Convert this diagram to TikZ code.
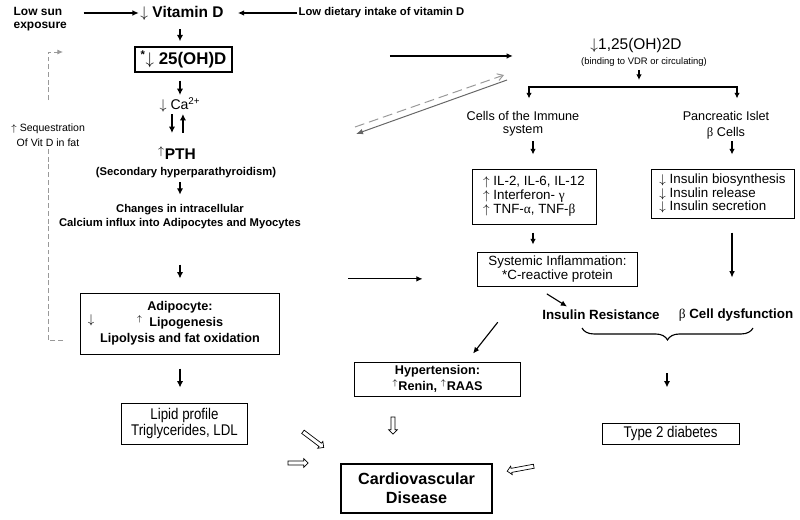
\documentclass[tikz,border=0pt]{standalone}
\usepackage{fontspec}
\setmainfont{Liberation Sans}
\newfontfamily\narrowfont[FakeStretch=0.86]{Liberation Sans}
\newfontfamily\grkfont{Liberation Serif}
\usetikzlibrary{arrows.meta,shapes.arrows,decorations.pathreplacing}
\newcommand{\fsz}[2]{\fontsize{#1}{#2}\selectfont}
\newcommand{\gk}[1]{{\grkfont\mdseries #1}}

\tikzset{
  lbl/.style={inner sep=1pt, align=center},
  bx/.style={draw, line width=0.7pt, inner sep=1pt, align=center},
  dnarr/.style={line width=1.4pt, -{Latex[length=4.5pt,width=4.5pt]}},
  smarr/.style={line width=1pt, -{Latex[length=4pt,width=4pt]}},
  thinarr/.style={line width=0.8pt, -{Latex[length=4.5pt,width=4pt]}},
  hollow/.style={single arrow, draw, line width=0.5pt, inner sep=1.2pt, minimum width=5.5pt,
    single arrow head extend=1.6pt},
  seqln/.style={black!40, line width=0.6pt, dash pattern=on 3.5pt off 2pt},
}

\begin{document}
\begin{tikzpicture}[x=0.025cm, y=-0.025cm]
        \useasboundingbox (0,0) rectangle (800,519);

        \node[lbl, anchor=west, align=left, font=\bfseries\fsz{8.5}{9.3}] (sun) at (12,19.5) {Low sun\\exposure};
        \node[lbl, font=\bfseries\fsz{11}{13}] (vitd) at (182,13) {$\downarrow$ Vitamin D};
        \node[lbl, anchor=west, font=\bfseries\fsz{8}{10}] (diet) at (297,13) {Low dietary intake of vitamin D};
        \node[bx, line width=1.2pt, minimum width=2.425cm, minimum height=0.625cm, font=\bfseries\fsz{12}{14}] (d25) at (183.5,59.5) {\textsuperscript{*}$\downarrow$ 25(OH)D};
        \node[lbl, font=\fsz{10}{12}] (ca) at (180,105) {$\downarrow$ Ca\textsuperscript{2+}};
        \node[lbl, font=\bfseries\fsz{11}{13}] (pth) at (177,153) {\textsuperscript{$\uparrow$}PTH};
        \node[lbl, font=\bfseries\fsz{8}{10}] (sec) at (186,173) {(Secondary hyperparathyroidism)};
        \node[lbl, font=\bfseries\fsz{8}{10}] (chg) at (180,217) {Changes in intracellular\\Calcium influx into Adipocytes and Myocytes};
        \node[bx, minimum width=4.95cm, minimum height=1.525cm, font=\bfseries\fsz{9}{11.4}] (adipo) at (180,323.5) {Adipocyte:\\\textsuperscript{$\uparrow$}\enspace Lipogenesis\\Lipolysis and fat oxidation};
        \node[lbl, font=\fsz{9}{11}] (adn) at (91,320) {$\downarrow$};
        \node[bx, minimum width=3.125cm, minimum height=1.025cm, font=\narrowfont\fsz{11}{12}] (lipid) at (184.5,423.5) {Lipid profile\\Triglycerides, LDL};
        \node[bx, line width=0.9pt, minimum width=3.775cm, minimum height=1.225cm, font=\bfseries\fsz{11.5}{13.5}] (cvd) at (416.5,488.5) {Cardiovascular\\Disease};
        \node[lbl, font=\fsz{7.5}{10.5}] (seq) at (48,135) {$\uparrow$ Sequestration\\Of Vit D in fat};

        \node[lbl, font=\fsz{11}{13}] (calc) at (636,45) {$\downarrow$1,25(OH)2D};
        \node[lbl, font=\fsz{6.7}{8}] (bind) at (644,62) {(binding to VDR or circulating)};
        \node[lbl, font=\fsz{9}{9.3}] (immune) at (523,123.5) {Cells of the Immune\\system};
        \node[lbl, font=\fsz{9}{11.4}] (islet) at (726,125) {Pancreatic Islet\\\gk{β} Cells};
        \node[bx, minimum width=3.1cm, minimum height=1.375cm, align=left, font=\fsz{9.5}{10}] (cyto) at (534,196.5) {$\uparrow$ IL-2, IL-6, IL-12\\$\uparrow$ Interferon- \gk{γ}\\$\uparrow$ TNF-\gk{α}, TNF-\gk{β}};
        \node[bx, minimum width=3.575cm, minimum height=1.225cm, align=left, font=\fsz{9.5}{9.8}] (insul) at (722.5,193.5) {$\downarrow$ Insulin biosynthesis\\$\downarrow$ Insulin release\\$\downarrow$ Insulin secretion};
        \node[bx, minimum width=3.975cm, minimum height=0.85cm, font=\fsz{9.5}{10.5}] (sys) at (557.5,269) {Systemic Inflammation:\\*C-reactive protein};
        \node[lbl, font=\bfseries\fsz{9.5}{11}] (ir) at (601,315) {Insulin Resistance};
        \node[lbl, font=\bfseries\fsz{9.5}{11}] (bcd) at (736,315) {\gk{β} Cell dysfunction};
        \node[bx, minimum width=4.125cm, minimum height=0.85cm, font=\bfseries\fsz{9}{11.4}] (hyp) at (437.5,379) {Hypertension:\\\textsuperscript{$\uparrow$}Renin, \textsuperscript{$\uparrow$}RAAS};
        \node[bx, minimum width=3.425cm, minimum height=0.525cm, font=\narrowfont\fsz{11}{12}] (t2d) at (670.5,433.5) {Type 2 diabetes};

        % open block arrows into the disease box
        \node[hollow, minimum height=0.65cm, rotate=-37] (h1) at (312.5,439) {};
        \node[hollow, minimum height=0.5cm] (h2) at (297,463) {};
        \node[hollow, minimum height=0.425cm, rotate=-90] (h3) at (393,424.5) {};
        \node[hollow, minimum height=0.675cm, rotate=190.5] (h4) at (521.5,468.5) {};

        \coordinate (col) at (180,0);
        \coordinate (lcol) at (533,0);
        \coordinate (rcol) at (732,0);
        \coordinate (split) at (639,87);
        \coordinate (brl) at (529,87);
        \coordinate (brr) at (737,87);
        \coordinate (sqb) at (63,340);
        \coordinate (sqt) at (63,52);
        \coordinate (ga) at (355,127);
        \coordinate (gb) at (504,75);
        \coordinate (gc) at (507,80);
        \coordinate (gd) at (356,134);
        \coordinate (brA) at (582,328);
        \coordinate (brB) at (753,328);
        \coordinate (tip) at (667,340);

        \draw[thinarr, shorten <=10.7pt] (sun.east |- vitd) -- (vitd.west);
        \draw[thinarr, shorten >=9pt] (diet.west) -- (vitd.east);
        \draw[dnarr, shorten <=5.3pt, shorten >=3.5pt] (vitd.south -| col) -- (d25.north -| col);
        \draw[dnarr, shorten <=5.6pt, shorten >=0.7pt] (d25.south -| col) -- (ca.north -| col);
        \draw[dnarr, shorten >=8.3pt] ([xshift=-5.7pt]ca.south) -- ([xshift=-5.7pt]ca.south |- pth.north);
        \draw[dnarr, shorten <=8.3pt] ([xshift=2.1pt]ca.south |- pth.north) -- ([xshift=2.1pt]ca.south);
        \draw[dnarr, shorten <=1.6pt, shorten >=6pt] (sec.south -| col) -- (chg.north -| col);
        \draw[dnarr, shorten <=24pt, shorten >=10pt] (chg.south -| col) -- (adipo.north -| col);
        \draw[dnarr, shorten <=10pt, shorten >=10.7pt] (adipo.south -| col) -- (lipid.north -| col);

        \draw[seqln] (sqb) -| (seq.south);
        \draw[seqln, -{Latex[length=4pt,width=3.5pt]}, shorten <=15.6pt] (seq.north) |- (sqt);

        \draw[thinarr, shorten <=111.7pt, shorten >=54pt] ([yshift=2.5pt]d25.east) -- ([yshift=2.5pt]d25.east -| calc.west);
        \draw[black!40, line width=0.7pt, dash pattern=on 7pt off 3.5pt, -{Straight Barb[length=4pt,width=5pt]}] (ga) -- (gb);
        \draw[black!60, line width=0.7pt, -{Latex[length=5pt,width=4pt]}] (gc) -- (gd);

        \draw[smarr, shorten <=1.5pt, shorten >=5pt] (bind.south -| split) -- (split);
        \draw[line width=1pt, {Latex[length=4pt,width=4pt]}-{Latex[length=4pt,width=4pt]}, shorten <=7.8pt, shorten >=7.8pt] (brl |- immune.north) -- (brl) -- (brr) -- (brr |- islet.north);
        \draw[smarr, shorten <=2.3pt, shorten >=10pt] (immune.south -| lcol) -- (cyto.north -| lcol);
        \draw[smarr, shorten <=0.5pt, shorten >=10pt] (islet.south -| rcol) -- (insul.north -| rcol);
        \draw[smarr, shorten <=5.7pt, shorten >=5pt] (cyto.south -| lcol) -- (sys.north -| lcol);
        \draw[thinarr, shorten <=10pt, shorten >=21pt] (insul.south -| rcol) -- (bcd.north -| rcol);
        \draw[thinarr, shorten <=9.9pt, shorten >=2.5pt] ([xshift=-16pt]sys.south) -- ([xshift=-22pt]ir.north);
        \draw[thinarr, shorten <=32.4pt, shorten >=7.2pt] ([xshift=-22.4pt]sys.south) -- ([xshift=20.8pt]hyp.north);
        \draw[thinarr, shorten <=49pt, shorten >=39pt] ([yshift=-7pt]sys.west -| adipo.east) -- ([yshift=-7pt]sys.west);

        \draw[line width=0.8pt, decorate, decoration={brace, amplitude=8.5pt, mirror}] (brA) -- (brB);
        \draw[dnarr, shorten <=23.5pt, shorten >=25pt] (tip) -- (t2d.north -| tip);
    \end{tikzpicture}
\end{document}
